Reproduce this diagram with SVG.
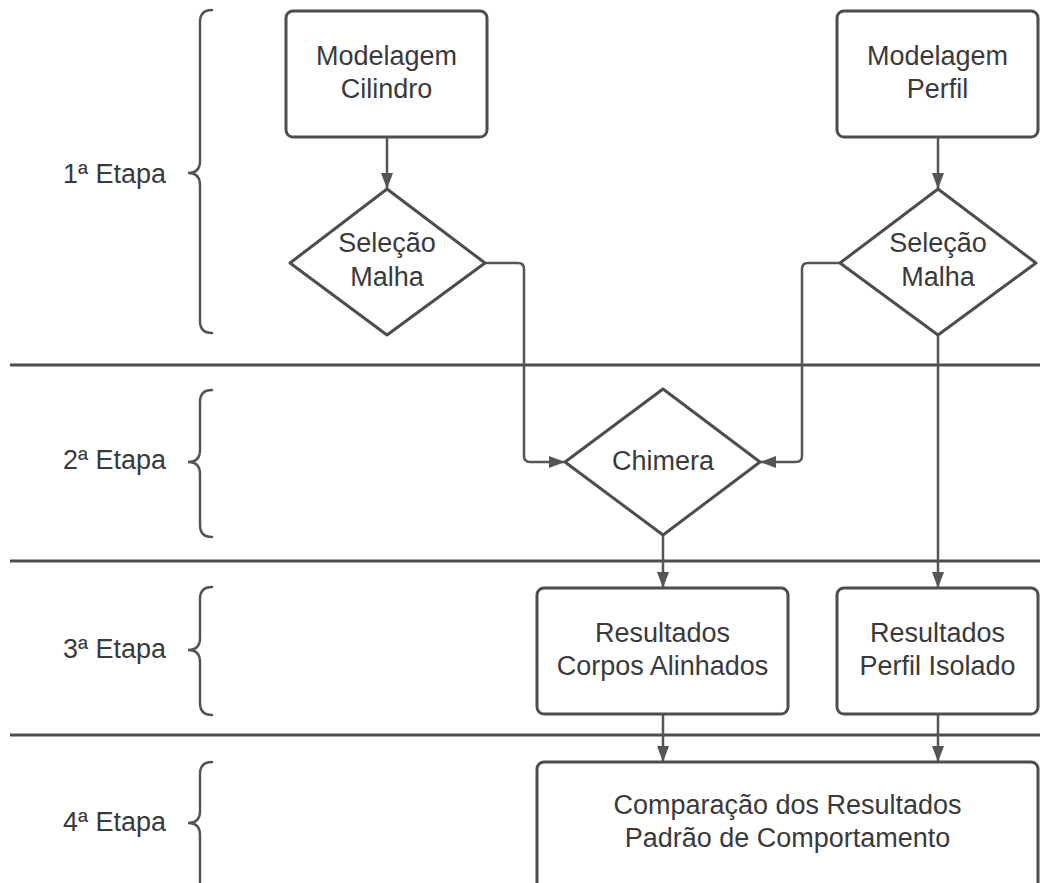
<svg xmlns="http://www.w3.org/2000/svg" width="1040" height="883" viewBox="0 0 1040 883">
<defs>
<style>
.shape{fill:#fff;stroke:#4d4d4d;stroke-width:3;stroke-linejoin:round}
.lane{stroke:#4d4d4d;stroke-width:3;fill:none}
.brace{stroke:#555;stroke-width:2.5;fill:none;stroke-linecap:round}
.conn{stroke:#555;stroke-width:2.5;fill:none;stroke-linejoin:round}
text{font-family:"Liberation Sans",Arial,sans-serif;font-size:27px;fill:#3a3a3a;text-anchor:middle}
</style>
<marker id="arr" viewBox="0 0 16 12" refX="15" refY="6" markerWidth="16" markerHeight="12" markerUnits="userSpaceOnUse" orient="auto">
<path d="M0,0 L16,6 L0,12 Z" fill="#555"/>
</marker>
</defs>
<rect width="1040" height="883" fill="#fff"/>
<g id="lanes">
<line class="lane" x1="10" y1="365" x2="1040" y2="365"/>
<line class="lane" x1="10" y1="561" x2="1040" y2="561"/>
<line class="lane" x1="10" y1="735" x2="1040" y2="735"/>
</g>
<g id="stage1">
<path class="brace" d="M212,10 Q200,10 200,22 L200,161 Q200,173 188,173 Q200,173 200,185 L200,321 Q200,333 212,333"/>
<text x="114.5" y="183">1ª Etapa</text>
</g>
<g id="stage2">
<path class="brace" d="M212,390 Q200,390 200,402 L200,450 Q200,462 188,462 Q200,462 200,474 L200,525 Q200,537 212,537"/>
<text x="114.5" y="469">2ª Etapa</text>
</g>
<g id="stage3">
<path class="brace" d="M212,587 Q200,587 200,599 L200,638 Q200,650 188,650 Q200,650 200,662 L200,703 Q200,715 212,715"/>
<text x="114.5" y="658">3ª Etapa</text>
</g>
<g id="stage4">
<path class="brace" d="M212,762 Q200,762 200,774 L200,811 Q200,823 188,823 Q200,823 200,835 L200,890"/>
<text x="114.5" y="831">4ª Etapa</text>
</g>
<g id="connectors">
<line class="conn" x1="387" y1="137" x2="387" y2="188" marker-end="url(#arr)"/>
<line class="conn" x1="938" y1="137" x2="938" y2="188" marker-end="url(#arr)"/>
<path class="conn" d="M485,263 L518,263 Q524,263 524,269 L524,456 Q524,462 530,462 L564,462" marker-end="url(#arr)"/>
<path class="conn" d="M840,263 L808,263 Q802,263 802,269 L802,456 Q802,462 796,462 L761,462" marker-end="url(#arr)"/>
<line class="conn" x1="663" y1="535" x2="663" y2="587" marker-end="url(#arr)"/>
<line class="conn" x1="938" y1="335" x2="938" y2="587" marker-end="url(#arr)"/>
<line class="conn" x1="663" y1="714" x2="663" y2="761" marker-end="url(#arr)"/>
<line class="conn" x1="938" y1="714" x2="938" y2="761" marker-end="url(#arr)"/>
</g>
<g id="modelagem-cilindro">
<rect class="shape" x="286" y="11" width="201" height="126" rx="7"/>
<text x="386.5" y="65">Modelagem</text>
<text x="386.5" y="98">Cilindro</text>
</g>
<g id="modelagem-perfil">
<rect class="shape" x="837" y="11" width="201" height="126" rx="7"/>
<text x="937.5" y="65">Modelagem</text>
<text x="937.5" y="98">Perfil</text>
</g>
<g id="selecao-malha-1">
<path class="shape" d="M387,189 L485,263 L387,335 L290,263 Z"/>
<text x="387" y="252">Seleção</text>
<text x="387" y="286">Malha</text>
</g>
<g id="selecao-malha-2">
<path class="shape" d="M938,189 L1036,263 L938,335 L840,263 Z"/>
<text x="938" y="252">Seleção</text>
<text x="938" y="286">Malha</text>
</g>
<g id="chimera">
<path class="shape" d="M663,389 L760,462 L663,535 L565,462 Z"/>
<text x="663" y="470">Chimera</text>
</g>
<g id="resultados-corpos">
<rect class="shape" x="537" y="588" width="251" height="126" rx="7"/>
<text x="662.5" y="642">Resultados</text>
<text x="662.5" y="675">Corpos Alinhados</text>
</g>
<g id="resultados-perfil">
<rect class="shape" x="837" y="588" width="201" height="126" rx="7"/>
<text x="937.5" y="642">Resultados</text>
<text x="937.5" y="675">Perfil Isolado</text>
</g>
<g id="comparacao">
<rect class="shape" x="537" y="762" width="501" height="140" rx="7"/>
<text x="787.5" y="814">Comparação dos Resultados</text>
<text x="787.5" y="847">Padrão de Comportamento</text>
</g>
</svg>
